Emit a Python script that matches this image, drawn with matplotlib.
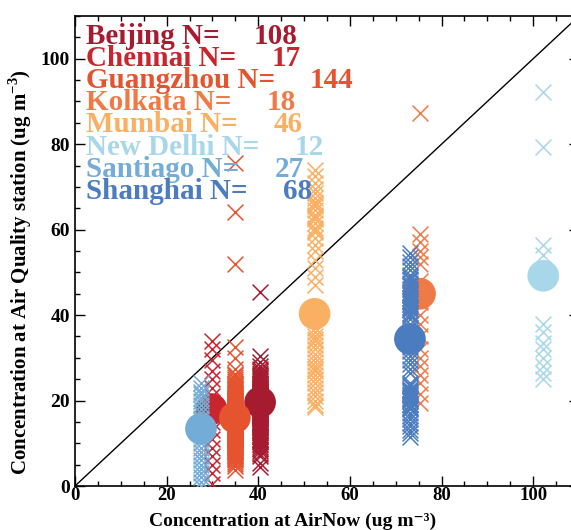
import matplotlib
matplotlib.use("Agg")
import matplotlib.pyplot as plt
from matplotlib.ticker import MultipleLocator

plt.rcParams['font.family'] = ['Liberation Serif', 'DejaVu Serif']
plt.rcParams['font.weight'] = 'bold'
plt.rcParams['mathtext.fontset'] = 'custom'
plt.rcParams['mathtext.rm'] = 'Liberation Serif:bold'
plt.rcParams['mathtext.bf'] = 'Liberation Serif:bold'

cities = ["Beijing", "Chennai", "Guangzhou", "Kolkata", "Mumbai",
          "New Delhi", "Santiago", "Shanghai"]
counts = [108, 17, 144, 18, 46, 12, 27, 68]
colors = ["#a51c30", "#c9252f", "#e5532f", "#f07a45", "#f9b062",
          "#a9d7ea", "#74acd8", "#4a7cbf"]

# AirNow concentration (x) for each city
airnow = [40.4, 29.8, 34.9, 75.3, 52.3, 102.2, 27.5, 73.1]
# mean of the station values (big circles)
station_mean = [19.6, 18.0, 16.0, 45.0, 40.3, 49.2, 13.4, 34.4]

beijing_y = [45.4, 30.5, 29.0, 28.0, 27.4, 26.9, 26.4, 25.9, 25.5, 25.0,
             24.6, 24.2, 23.8, 23.4, 23.0, 22.6, 22.3, 21.9, 21.6, 21.3,
             21.0, 20.7, 20.4, 20.1, 19.8, 19.5, 19.2, 18.9, 18.6, 18.3,
             18.0, 17.7, 17.4, 17.1, 16.8, 16.5, 16.2, 15.9, 15.6, 15.3,
             15.0, 14.7, 14.4, 14.1, 13.8, 13.5, 13.2, 12.9, 12.6, 12.3,
             12.0, 11.7, 11.4, 11.1, 10.8, 10.5, 10.2, 9.9, 9.5, 9.1,
             8.7, 8.2, 7.6, 7.0, 5.5, 4.5, 22.0, 21.0, 20.0, 19.0,
             23.2, 22.8, 21.4, 20.6, 19.6, 18.8, 17.9, 17.2, 16.4, 15.7,
             24.0, 22.1, 20.9, 20.3, 19.4, 18.4, 17.6, 16.9, 16.0, 14.9,
             26.0, 23.6, 21.7, 20.5, 19.9, 19.1, 18.2, 17.0, 14.5, 13.0,
             25.2, 22.4, 21.2, 19.7, 18.7, 16.6, 13.7, 11.0]
chennai_y = [34.0, 32.0, 29.5, 27.0, 25.0, 23.0, 21.0, 19.0, 17.0, 15.0,
             13.0, 11.0, 9.0, 7.0, 5.0, 3.0, 0.5]
guangzhou_y = [75.6, 64.2, 52.0, 32.5, 30.0, 27.5, 26.3, 25.9, 25.4, 25.0,
               24.6, 24.2, 23.8, 23.5, 23.1, 22.8, 22.4, 22.1, 21.8, 21.5,
               21.2, 20.9, 20.6, 20.3, 20.0, 19.8, 19.5, 19.2, 19.0, 18.7,
               18.5, 18.2, 18.0, 17.8, 17.5, 17.3, 17.1, 16.9, 16.7, 16.5,
               16.3, 16.1, 15.9, 15.7, 15.5, 15.3, 15.1, 14.9, 14.7, 14.5,
               14.3, 14.1, 13.9, 13.7, 13.5, 13.3, 13.1, 12.9, 12.7, 12.5,
               12.3, 12.1, 11.9, 11.7, 11.5, 11.3, 11.1, 10.9, 10.7, 10.5,
               10.3, 10.1, 9.9, 9.7, 9.5, 9.3, 9.1, 8.9, 8.7, 8.5,
               8.3, 8.1, 7.9, 7.7, 7.5, 7.3, 7.1, 6.9, 6.6, 6.3,
               6.0, 5.6, 5.2, 4.6, 3.8, 16.0, 15.2, 14.4, 13.6, 12.8,
               18.4, 17.6, 16.8, 15.8, 15.0, 14.2, 13.4, 12.6, 11.8, 11.0,
               20.2, 19.4, 18.6, 17.0, 16.2, 14.0, 13.0, 12.0, 10.8, 10.0,
               21.0, 19.9, 17.9, 16.6, 15.4, 14.8, 13.8, 12.4, 11.4, 9.6,
               22.6, 20.7, 18.9, 17.7, 16.4, 15.6, 14.6, 13.2, 11.2, 9.0,
               23.6, 19.6, 15.9, 8.2]
kolkata_y = [87.4, 59.0, 57.0, 55.0, 53.5, 52.0, 48.0, 43.0, 40.0, 38.0,
             35.0, 32.0, 30.0, 28.0, 26.0, 24.0, 21.5, 19.5]
mumbai_y = [74.0, 72.5, 71.0, 69.5, 68.5, 67.5, 66.5, 65.5, 64.5, 63.5,
            62.5, 61.5, 60.5, 59.5, 58.0, 56.5, 55.0, 53.0, 51.0, 49.0,
            47.0, 37.0, 36.0, 35.0, 34.0, 33.0, 32.0, 31.0, 30.0, 29.0,
            28.0, 27.0, 26.0, 25.0, 24.0, 23.0, 22.0, 21.0, 20.0, 19.0,
            18.5, 66.0, 63.0, 60.0, 34.5, 27.5]
newdelhi_y = [92.3, 79.4, 56.5, 54.0, 38.0, 36.0, 33.5, 32.0, 30.0, 28.0,
              26.5, 25.0]
santiago_y = [24.0, 23.0, 22.0, 21.5, 20.5, 20.0, 19.0, 18.0, 17.0, 16.0,
              15.5, 14.5, 13.5, 12.5, 12.0, 11.0, 10.0, 9.0, 8.0, 7.0,
              6.0, 5.0, 4.0, 3.0, 2.0, 1.0, 0.0]
shanghai_y = [54.5, 53.5, 52.5, 51.5, 50.5, 49.5, 48.8, 48.1, 47.4, 46.7,
              46.0, 45.3, 44.6, 43.9, 43.2, 42.5, 41.8, 41.1, 40.4, 39.7,
              39.0, 38.0, 37.0, 36.0, 35.0, 33.5, 32.5, 31.5, 30.5, 29.5,
              28.5, 27.5, 26.5, 24.0, 23.4, 22.8, 22.2, 21.6, 21.0, 20.4,
              19.8, 19.2, 18.6, 18.0, 17.2, 16.4, 15.6, 14.8, 14.0, 13.2,
              12.4, 11.5, 47.0, 45.0, 43.0, 41.5, 40.0, 23.7, 22.5, 21.3,
              20.1, 19.0, 44.0, 42.0, 48.5, 22.0, 20.7, 18.3]

station_values = [beijing_y, chennai_y, guangzhou_y, kolkata_y, mumbai_y,
                  newdelhi_y, santiago_y, shanghai_y]

fig = plt.figure(figsize=(5.71, 5.30), dpi=100)
ax = fig.add_axes([0.1313, 0.0830, 0.8827, 0.8868])

ax.plot([0, 110], [0, 110], color='black', lw=1.0, zorder=1)

for i, city in enumerate(cities):
    ys = station_values[i]
    ax.scatter([airnow[i]] * len(ys), ys, marker='x', s=130,
               color=colors[i], linewidths=1.1, zorder=2 + 2 * i)
    ax.scatter([airnow[i]], [station_mean[i]], marker='o', s=520,
               color=colors[i], edgecolors='none', zorder=3 + 2 * i)

for i, city in enumerate(cities):
    t1 = ax.text(2.3, 105.3 - 5.2 * i, "%s N=" % city,
                 color=colors[i], fontsize=21, fontweight='bold',
                 va='center', ha='left', zorder=30)
    gap = 25 if counts[i] >= 100 else 26
    ax.annotate("%d" % counts[i], xy=(1, 0), xycoords=t1,
                xytext=(gap, 0), textcoords='offset points',
                color=colors[i], fontsize=21, fontweight='bold',
                va='bottom', ha='left', zorder=30)

ax.set_xlim(0, 110)
ax.set_ylim(0, 110)
ax.xaxis.set_major_locator(MultipleLocator(20))
ax.xaxis.set_minor_locator(MultipleLocator(5))
ax.yaxis.set_major_locator(MultipleLocator(20))
ax.yaxis.set_minor_locator(MultipleLocator(5))
ax.tick_params(which='both', direction='in', top=True, right=True,
               labelsize=14, width=1.0)
ax.tick_params(axis='x', labelsize=13.5, pad=1)
ax.tick_params(which='major', length=7)
ax.tick_params(which='minor', length=3.5)
for lab in ax.get_xticklabels() + ax.get_yticklabels():
    lab.set_fontweight('bold')
for sp in ax.spines.values():
    sp.set_linewidth(1.2)

fig.text(0.513, 0.0, "Concentration at AirNow (ug m\u207b\u00b3)",
         fontsize=14, fontweight='bold', ha='center', va='bottom')
fig.text(0.036, 0.487,
         r"Concentration at Air Quality station (ug m$^{\mathbf{-3}}$)",
         fontsize=15, fontweight='bold', ha='center', va='center',
         rotation=90)

fig.savefig("out.png", dpi=100)
